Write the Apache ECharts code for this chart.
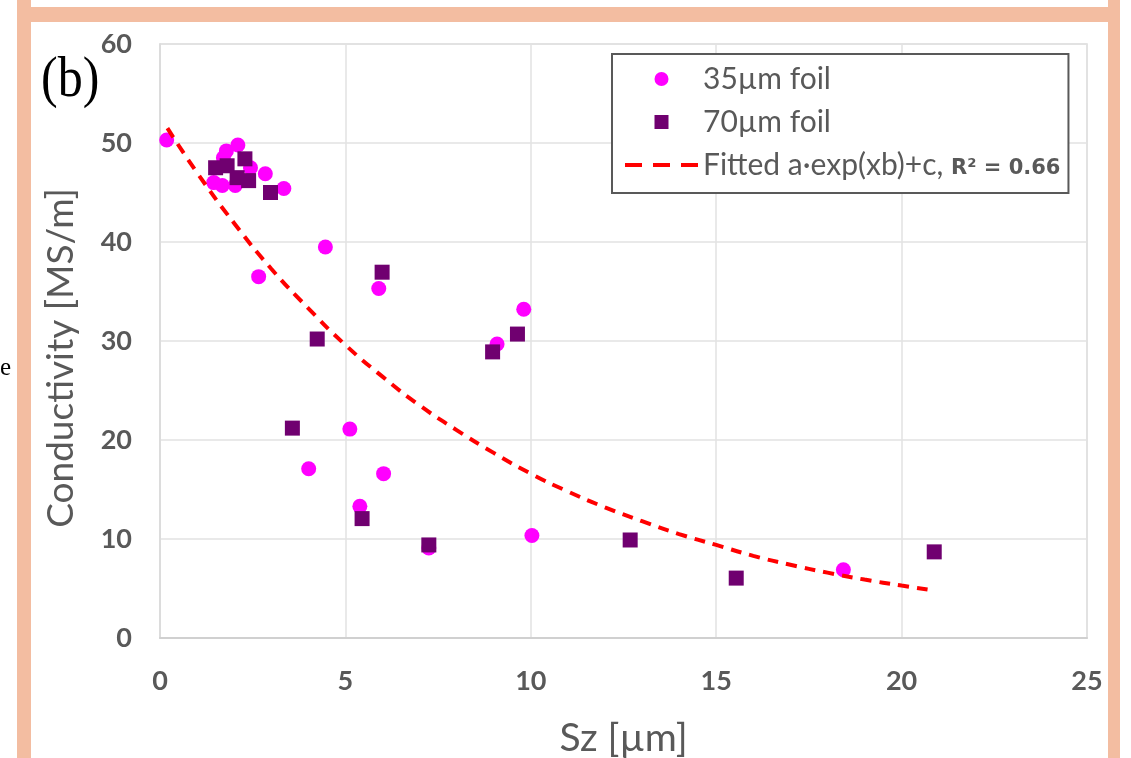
<!DOCTYPE html>
<html>
<head>
<meta charset="utf-8">
<script src="https://cdn.jsdelivr.net/npm/echarts@6/dist/echarts.min.js"></script>
<style>
  html, body { margin: 0; padding: 0; background: #ffffff; }
  #chart { width: 1131px; height: 758px; }
</style>
</head>
<body>
<div id="chart"></div>
<script>
// Surface roughness Sz [µm] vs. conductivity [MS/m], 35 µm copper foil samples
const sz35   = [0.18, 2.10, 1.79, 1.71, 2.44, 2.84, 3.34, 1.45, 1.68, 2.03, 2.66, 4.46, 5.90, 9.81, 9.09, 5.12, 4.01, 6.03, 5.39, 7.25, 10.03, 18.43];
const cond35 = [50.3, 49.8, 49.2, 48.5, 47.5, 46.9, 45.4, 46.0, 45.7, 45.7, 36.5, 39.5, 35.3, 33.2, 29.7, 21.1, 17.1, 16.6, 13.3, 9.1, 10.35, 6.9];

// 70 µm copper foil samples
const sz70   = [1.50, 1.81, 2.29, 2.08, 2.39, 2.98, 5.99, 4.24, 9.64, 8.97, 3.57, 5.45, 7.25, 12.68, 15.54, 20.88];
const cond70 = [47.5, 47.7, 48.4, 46.5, 46.2, 45.0, 36.95, 30.2, 30.7, 28.9, 21.2, 12.06, 9.4, 9.9, 6.05, 8.7];

// Fitted curve a·exp(xb)+c, sampled along Sz
const fitSz   = [0.2, 1, 2, 3, 4, 5, 6, 7, 8, 9, 10, 11, 12, 13, 14, 15, 16, 17, 18, 19, 20, 20.7];
const fitCond = [51.5, 47.0, 41.9, 37.3, 33.3, 29.6, 26.4, 23.5, 21.0, 18.7, 16.6, 14.8, 13.2, 11.8, 10.5, 9.4, 8.3, 7.4, 6.6, 5.9, 5.3, 4.9];

// Axis ranges / ticks
const xRange = [0, 25], xStep = 5;
const yRange = [0, 60], yStep = 10;

const seriesNames = ['35µm foil', '70µm foil', 'Fitted a·exp(xb)+c, R² = 0.66'];

const zip = (xs, ys) => xs.map((x, i) => [x, ys[i]]);

const GRAY = '#595959';
const PEACH = '#F3BDA1';
const FONT = 'Lato, "Open Sans", sans-serif';

// legend glyphs: a square marker and a three-dash stroke
const SQUARE_ICON = 'path://M0 0H10V10H0Z';
const DASH_ICON = 'path://M0 0H17V4H0Z M28 0H45V4H28Z M56 0H73V4H56Z';

const chart = echarts.init(document.getElementById('chart'), null, { renderer: 'canvas' });

chart.setOption({
  backgroundColor: '#ffffff',
  animation: false,
  grid: {
    left: 160, right: 44, top: 44, bottom: 120,
    outerBoundsMode: 'none',
    containLabel: false,
    show: true, borderColor: '#dadada', borderWidth: 1.5
  },
  xAxis: {
    type: 'value',
    min: xRange[0], max: xRange[1], interval: xStep,
    name: 'Sz [µm]',
    nameLocation: 'middle',
    nameGap: 81,
    nameTextStyle: { fontFamily: FONT, fontSize: 39, color: GRAY },
    axisLine: { show: true, onZero: false, lineStyle: { color: '#d0d0d0', width: 2 } },
    axisTick: { show: false },
    splitLine: { show: true, lineStyle: { color: '#e2e2e2', width: 1.5 } },
    axisLabel: { fontFamily: FONT, fontWeight: 'bold', fontSize: 27, color: GRAY, margin: 30 }
  },
  yAxis: {
    type: 'value',
    min: yRange[0], max: yRange[1], interval: yStep,
    name: 'Conductivity [MS/m]',
    nameLocation: 'middle',
    nameGap: 80,
    nameTextStyle: { fontFamily: FONT, fontSize: 37, color: GRAY, padding: [0, 34, 0, 0] },
    axisLine: { show: true, lineStyle: { color: '#dadada', width: 1.5 } },
    axisTick: { show: false },
    splitLine: { show: true, lineStyle: { color: '#e2e2e2', width: 1.5 } },
    axisLabel: { fontFamily: FONT, fontWeight: 'bold', fontSize: 27, color: GRAY, margin: 28 }
  },
  legend: {
    orient: 'vertical',
    left: 612, top: 54,
    padding: [9, 8, 12, 13],
    itemWidth: 73, itemHeight: 14, itemGap: 11,
    symbolKeepAspect: true,
    borderColor: GRAY, borderWidth: 2, borderRadius: 0,
    backgroundColor: '#ffffff',
    data: [
      { name: seriesNames[0], icon: 'circle' },
      { name: seriesNames[1], icon: SQUARE_ICON },
      { name: seriesNames[2], icon: DASH_ICON, itemStyle: { color: '#ff0000' } }
    ],
    formatter: function (name) {
      const k = name.indexOf('R²');
      if (k < 0) return '{t|' + name + '}';
      return '{t|' + name.slice(0, k) + '}{r|' + name.slice(k) + '}';
    },
    textStyle: {
      color: GRAY, fontFamily: FONT, fontSize: 30, lineHeight: 32,
      rich: {
        t: { fontFamily: FONT, fontSize: 30, color: GRAY, lineHeight: 32 },
        r: { fontFamily: '"DejaVu Sans", sans-serif', fontSize: 21, fontWeight: 'bold', color: GRAY, lineHeight: 32, padding: [7, 0, 0, 0] }
      }
    }
  },
  series: [
    {
      name: seriesNames[0],
      type: 'scatter',
      symbol: 'circle',
      symbolSize: 15,
      itemStyle: { color: '#ff00ff', opacity: 1 },
      data: zip(sz35, cond35),
      z: 2
    },
    {
      name: seriesNames[1],
      type: 'scatter',
      symbol: 'rect',
      symbolSize: 15,
      itemStyle: { color: '#700070', opacity: 1 },
      data: zip(sz70, cond70),
      z: 3
    },
    {
      name: seriesNames[2],
      type: 'line',
      smooth: true,
      showSymbol: false,
      symbol: 'none',
      lineStyle: { color: '#ff0000', width: 4, type: [11, 8] },
      itemStyle: { color: '#ff0000' },
      data: zip(fitSz, fitCond),
      z: 4
    }
  ],
  graphic: [
    // page frame bars
    { type: 'rect', left: 17, top: 0, shape: { width: 14, height: 758 }, style: { fill: PEACH }, silent: true },
    { type: 'rect', left: 1108, top: 0, shape: { width: 12, height: 758 }, style: { fill: PEACH }, silent: true },
    { type: 'rect', left: 17, top: 7, shape: { width: 1103, height: 15 }, style: { fill: PEACH }, silent: true },
    // panel tag
    { type: 'text', x: 41, y: 52, scaleY: 1.15, style: { text: '(b)', font: '50px "Liberation Serif", "DejaVu Serif", serif', fill: '#000000' }, silent: true },
    { type: 'text', x: 0, y: 356, style: { text: 'e', font: '25px "Liberation Serif", "DejaVu Serif", serif', fill: '#000000' }, silent: true }
  ]
});
</script>
</body>
</html>
